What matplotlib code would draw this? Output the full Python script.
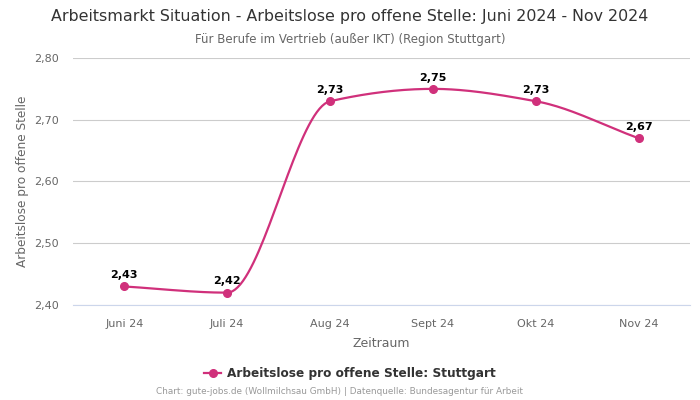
import numpy as np
import matplotlib
matplotlib.use("Agg")
import matplotlib.pyplot as plt

months = ["Juni 24", "Juli 24", "Aug 24", "Sept 24", "Okt 24", "Nov 24"]
values = [2.43, 2.42, 2.73, 2.75, 2.73, 2.67]
y_ticks = [2.40, 2.50, 2.60, 2.70, 2.80]

color = "#d0307b"


# smooth line like the original chart (monotone cubic through the points)
def monotone_curve(x, y, steps=40):
    x = np.asarray(x, float)
    y = np.asarray(y, float)
    h = np.diff(x)
    d = np.diff(y) / h
    m = np.zeros_like(y)
    m[0], m[-1] = d[0], d[-1]
    for i in range(1, len(y) - 1):
        if d[i - 1] * d[i] > 0:
            w1 = 2 * h[i] + h[i - 1]
            w2 = h[i] + 2 * h[i - 1]
            m[i] = (w1 + w2) / (w1 / d[i - 1] + w2 / d[i])
    xs, ys = [], []
    for i in range(len(x) - 1):
        t = np.linspace(0, 1, steps)
        h00 = 2 * t**3 - 3 * t**2 + 1
        h10 = t**3 - 2 * t**2 + t
        h01 = -2 * t**3 + 3 * t**2
        h11 = t**3 - t**2
        xs.append(x[i] + t * h[i])
        ys.append(h00 * y[i] + h10 * h[i] * m[i] + h01 * y[i + 1] + h11 * h[i] * m[i + 1])
    return np.concatenate(xs), np.concatenate(ys)


x = np.arange(len(months))
fig = plt.figure(figsize=(7, 4), dpi=100)
ax = fig.add_axes([0.104, 0.2375, 0.882, 0.6175])

cx, cy = monotone_curve(x, values)
ax.plot(cx, cy, color=color, lw=1.6, zorder=3)
ax.plot(x, values, "o", color=color, ms=5.5, zorder=4)
for xi, v in zip(x, values):
    ax.annotate(f"{v:.2f}".replace(".", ","), (xi, v), xytext=(0, 4.5),
                textcoords="offset points", ha="center", va="bottom",
                fontsize=8, fontweight="bold", color="#000000")

ax.set_xlim(-0.5, len(months) - 0.5)
ax.set_ylim(y_ticks[0], y_ticks[-1])
ax.set_yticks(y_ticks)
ax.set_yticklabels([f"{t:.2f}".replace(".", ",") for t in y_ticks])
ax.set_xticks(x)
ax.set_xticklabels(months)
ax.tick_params(length=0, labelsize=8, colors="#666666")
ax.tick_params(axis="x", pad=10)
ax.tick_params(axis="y", pad=10)
ax.grid(axis="y", color="#cccccc", lw=0.8)
ax.set_axisbelow(True)
for s in ["top", "right", "left"]:
    ax.spines[s].set_visible(False)
ax.spines["bottom"].set_color("#ccd6eb")
ax.spines["bottom"].set_linewidth(0.8)

ax.set_xlabel("Zeitraum", fontsize=9, color="#666666", labelpad=6)
ax.set_ylabel("Arbeitslose pro offene Stelle", fontsize=8.7, color="#666666", labelpad=4)

fig.text(0.5, 0.958, "Arbeitsmarkt Situation - Arbeitslose pro offene Stelle: Juni 2024 - Nov 2024",
         ha="center", va="center", fontsize=11.4, color="#333333")
fig.text(0.5, 0.9, "Für Berufe im Vertrieb (außer IKT) (Region Stuttgart)",
         ha="center", va="center", fontsize=8.5, color="#666666")

leg = fig.legend(handles=[plt.Line2D([], [], color=color, lw=1.6, marker="o", ms=5.5)],
                 labels=["Arbeitslose pro offene Stelle: Stuttgart"],
                 loc="center", bbox_to_anchor=(0.5, 0.066), frameon=False,
                 handlelength=1.4, handletextpad=0.5,
                 prop={"size": 8.7, "weight": "bold"})
for t in leg.get_texts():
    t.set_color("#333333")

fig.text(0.485, 0.02, "Chart: gute-jobs.de (Wollmilchsau GmbH) | Datenquelle: Bundesagentur für Arbeit",
         ha="center", va="center", fontsize=6.4, color="#999999")

fig.savefig("out.png", dpi=100)
